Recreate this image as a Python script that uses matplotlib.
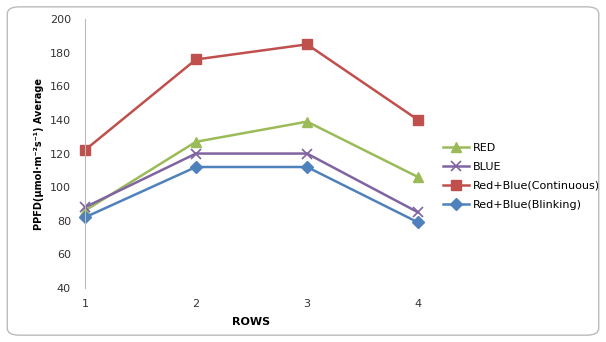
import matplotlib
matplotlib.use("Agg")
import matplotlib.pyplot as plt
from matplotlib.patches import FancyBboxPatch

# Data
rows = [1, 2, 3, 4]
red = [86, 127, 139, 106]
blue = [88, 120, 120, 85]
red_blue_cont = [122, 176, 185, 140]
red_blue_blink = [82, 112, 112, 79]

fig = plt.figure(figsize=(6.06, 3.42), dpi=100)
ax = fig.add_axes([0.140, 0.158, 0.550, 0.786])

# Excel 2007 palette
ax.plot(rows, red, color='#9BBB59', marker='^', markersize=7, linewidth=1.8, label='RED', clip_on=False)
ax.plot(rows, blue, color='#8064A2', marker='x', markersize=7, markeredgewidth=1.2, linewidth=1.8, label='BLUE', clip_on=False)
ax.plot(rows, red_blue_cont, color='#C0504D', marker='s', markersize=7, linewidth=1.8, label='Red+Blue(Continuous)', clip_on=False)
ax.plot(rows, red_blue_blink, color='#4F81BD', marker='D', markersize=6, linewidth=1.8, label='Red+Blue(Blinking)', clip_on=False)

ax.set_xlim(1, 4)
ax.set_ylim(40, 200)
ax.set_xticks(rows)
ax.set_yticks(range(40, 201, 20))
ax.tick_params(length=0, labelsize=8, labelcolor='#333333')
ax.tick_params(axis='y', pad=10)
ax.tick_params(axis='x', pad=8)

for s in ['top', 'right', 'bottom']:
    ax.spines[s].set_visible(False)
ax.spines['left'].set_color('#BBBBBB')

ax.set_xlabel('ROWS', fontsize=8, fontweight='bold', labelpad=6)
ax.set_ylabel('PPFD(μmol·m⁻²s⁻¹) Average', fontsize=7, fontweight='bold', labelpad=4)

ax.legend(loc='upper left', bbox_to_anchor=(1.06, 0.555), frameon=False, fontsize=8,
          handlelength=2.4, labelspacing=0.8, borderaxespad=0, handletextpad=0.3)

# rounded chart frame
frame = FancyBboxPatch((0.012, 0.02), 0.976, 0.96, boxstyle='round,pad=0,rounding_size=0.02',
                       transform=fig.transFigure, fill=False, edgecolor='#BBBBBB', linewidth=1)
fig.patches.append(frame)

fig.savefig('out.png', dpi=100)
